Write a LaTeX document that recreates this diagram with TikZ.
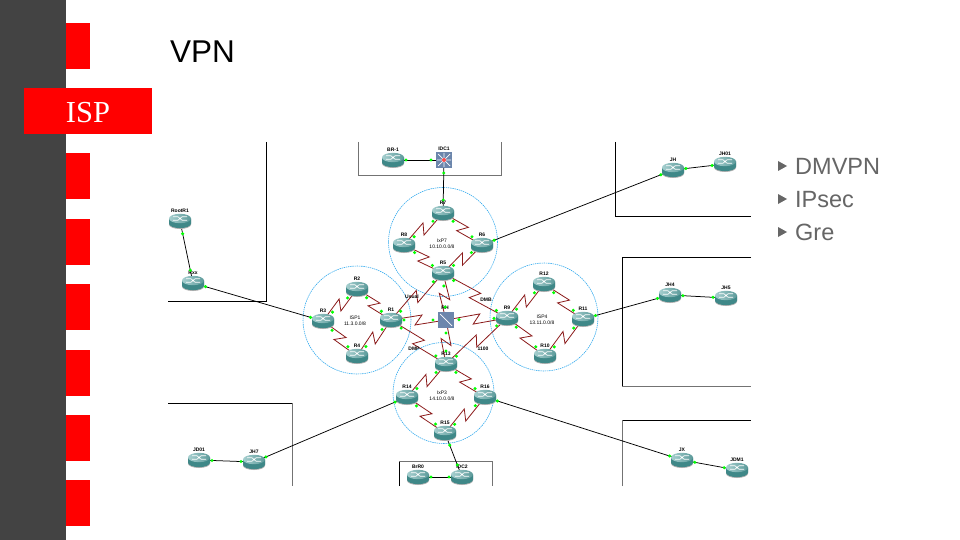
\documentclass[tikz,border=0pt]{standalone}
\usepackage{fontspec}
\setmainfont{Liberation Sans}
\newfontfamily\serifface{Liberation Serif}
\usetikzlibrary{calc,backgrounds}
\definecolor{sidebar}{HTML}{434343}
\definecolor{tabred}{HTML}{FF0000}
\definecolor{bullettext}{HTML}{666666}
\definecolor{teal1}{HTML}{3F8888}
\definecolor{teal2}{HTML}{A6CFCF}
\definecolor{serialred}{HTML}{8B1A1A}
\definecolor{ringblue}{HTML}{33AAEE}
\definecolor{swblue}{HTML}{6C86AC}
\definecolor{dotgreen}{HTML}{00FF00}
\tikzset{
  tabbox/.style={fill=tabred,draw=none},
  rnode/.style={minimum width=24pt,minimum height=16pt,inner sep=0pt},
  swnode/.style={minimum width=16pt,minimum height=16pt,inner sep=0pt},
  rlabel/.style={font=\fontsize{5}{5}\selectfont\bfseries,inner sep=0pt},
  netlabel/.style={font=\fontsize{5}{6}\selectfont,inner sep=0pt,align=center},
  edgelabel/.style={font=\fontsize{5}{5}\selectfont\bfseries,inner sep=0pt},
  ring/.style={draw=ringblue,line width=0.6pt,dash pattern=on 1.4pt off 0.8pt},
  areabox/.style={draw=black,line width=0.8pt},
  areagray/.style={draw=black!55,line width=0.8pt},
  serialline/.style={draw=serialred,line width=0.8pt},
  blackline/.style={draw=black,line width=0.75pt},
  port/.style={fill=dotgreen,draw=none},
  bullettxt/.style={font=\fontsize{23.5}{26}\selectfont,text=bullettext,anchor=base west,inner sep=0pt},
  bullettri/.style={fill=bullettext,draw=none},
}
\newcommand{\router}[4]{%
  \node[rnode] (#1) at (#2,#3) {};
  \begin{scope}[shift={(#2,#3)}]
    \fill[black!30] (-11,-2) -- (-11,3.5) arc[start angle=180,end angle=360,x radius=11pt,y radius=4.5pt] -- (11,-2) -- cycle;
    \fill[teal1] (-11,-2.5) -- (-11,2.6) arc[start angle=180,end angle=360,x radius=11pt,y radius=4.5pt] -- (11,-2.5) -- cycle;
    \shade[left color=teal2,right color=teal1!85!white] (0,-2.5) ellipse[x radius=11pt,y radius=4.7pt];
    \draw[white,line width=0.7pt] (-7,-4.2) -- (-2,-4.2) (-7,-0.8) -- (-2,-0.8) (2,-4.2) -- (7,-4.2) (2,-0.8) -- (7,-0.8) (-2,-4.2) -- (2,-0.8) (-2,-0.8) -- (2,-4.2);
  \end{scope}
  \node[rlabel] (#1lab) at (#2,#3-10) {#4};
}
\newcommand{\serial}[2]{%
  \begin{pgfonlayer}{background}
    \coordinate (zm) at ($(#1)!.5!(#2)$);
    \coordinate (zf) at ($(zm)!3.5pt!(#2)$);
    \coordinate (zb) at ($(zm)!3.5pt!(#1)$);
    \draw[serialline] (#1.center) -- ($(zf)!5pt!90:(#2)$) -- ($(zb)!5pt!90:(#1)$) -- (#2.center);
  \end{pgfonlayer}
  \fill[port] ($(#1)!13pt!(#2)$) circle[radius=1.7pt];
  \fill[port] ($(#2)!13pt!(#1)$) circle[radius=1.7pt];
}
\newcommand{\wire}[2]{%
  \begin{pgfonlayer}{background}
    \draw[blackline] (#1.center) -- (#2.center);
  \end{pgfonlayer}
  \fill[port] ($(#1)!13pt!(#2)$) circle[radius=1.7pt];
  \fill[port] ($(#2)!13pt!(#1)$) circle[radius=1.7pt];
}
\begin{document}
\begin{tikzpicture}[x=1pt,y=-1pt]
\useasboundingbox (0,0) rectangle (960,540);
% sidebar
\fill[sidebar] (0,0) rectangle (66,540);
\foreach \ya/\yb in {23/69,153/199,219/265,284/330,350/396,415/461,480/526}
  \fill[tabbox] (66,\ya) rectangle (90,\yb);
\fill[tabbox] (24,88) rectangle (152,134);
\node[font=\serifface\fontsize{30.5}{30}\selectfont,text=white,anchor=base,inner sep=0pt] (isp) at (88,123) {ISP};
\node[font=\fontsize{31.5}{32}\selectfont,anchor=base west,inner sep=0pt] (title) at (170,63) {VPN};
% bullets
\foreach \yy/\tt in {166/DMVPN,199/IPsec,232/Gre}{
  \fill[bullettri] (778,\yy-5) -- (787,\yy) -- (778,\yy+5) -- cycle;
  \node[bullettxt] (b\tt) at (795,\yy+8.5) {\tt};
}
% area frames
\begin{pgfonlayer}{background}
  \fill[white] (0,0) rectangle (960,540);
  \draw[areabox] (266,142) -- (266,301) -- (168,301);
  \draw[areagray] (358,142) -- (358,175) -- (501,175) -- (501,142);
  \draw[areabox] (615,142) -- (615,216) -- (751,216);
  \draw[areabox] (751,257) -- (622,257) -- (622,386);
  \draw[areagray] (622,386) -- (751,386);
  \draw[areabox] (168,403) -- (292,403);
  \draw[areagray] (292,403) -- (292,486);
  \draw[areabox] (399,486) -- (399,461);
  \draw[areagray] (399,461) -- (492,461) -- (492,486);
  \draw[areagray] (622.5,486) -- (622.5,420);
  \draw[areabox] (622.5,420) -- (751,420);
  \draw[ring] (443,242) circle[radius=54.5pt];
  \draw[ring] (357,320) circle[radius=54pt];
  \draw[ring] (544,317) circle[radius=54pt];
  \draw[ring] (443.5,393) circle[radius=50.5pt];
\end{pgfonlayer}
% routers
\router{BRa}{393}{160}{BR-1}
\router{Rseven}{443}{213}{R7}
\router{Reight}{404}{245}{R8}
\router{Rsix}{482}{245}{R6}
\router{Rfive}{443}{273}{R5}
\router{Rtwo}{357}{289}{R2}
\router{Rthree}{323}{321}{R3}
\router{Rone}{391}{320}{R1}
\router{Rfour}{357}{356}{R4}
\router{Rnine}{507}{318}{R9}
\router{Rtwelve}{544}{284}{R12}
\router{Releven}{583}{319}{R11}
\router{Rten}{545}{356}{R10}
\router{Rthirteen}{446}{364}{R13}
\router{Rfourteen}{407}{397}{R14}
\router{Rsixteen}{485}{397}{R16}
\router{Rfifteen}{445}{433}{R15}
\router{Idctwo}{462}{477}{IDC2}
\router{BRb}{418}{477}{BrR0}
\router{Lone}{180}{221}{RootR1}
\router{Ltwo}{193}{283}{Rxx}
\router{JH}{673}{170}{JH}
\router{JHa}{725}{164}{JH01}
\router{JHf}{670}{295}{JH4}
\router{JHg}{726}{298}{JH5}
\router{JSa}{254}{462}{JH7}
\router{JSb}{199}{460}{JD01}
\router{JXa}{682}{460}{JX}
\router{JXb}{737}{470}{JDM1}
% switches
\node[swnode,fill=swblue] (IDC) at (444,160) {};
\draw[white,line width=0.7pt] (438,154) -- (450,166) (438,166) -- (450,154) (444,153) -- (444,167) (437,160) -- (451,160);
\fill[red!70!white] (444,160) circle[radius=2pt];
\node[rlabel] (IDClab) at (444,149) {IDC1};
\node[swnode,fill=swblue] (RH) at (446,320) {};
\draw[white,line width=0.7pt] (440,314) -- (452,326);
\node[rlabel] (RHlab) at (445,308) {RH};
% serial links
\serial{Rseven}{Reight}
\serial{Rseven}{Rsix}
\serial{Reight}{Rfive}
\serial{Rsix}{Rfive}
\serial{Rtwo}{Rthree}
\serial{Rtwo}{Rone}
\serial{Rthree}{Rfour}
\serial{Rone}{Rfour}
\serial{Rtwelve}{Rnine}
\serial{Rtwelve}{Releven}
\serial{Rnine}{Rten}
\serial{Releven}{Rten}
\serial{Rthirteen}{Rfourteen}
\serial{Rthirteen}{Rsixteen}
\serial{Rfourteen}{Rfifteen}
\serial{Rsixteen}{Rfifteen}
\serial{Rfive}{Rone}
\serial{Rfive}{RH}
\serial{Rfive}{Rnine}
\serial{Rone}{RH}
\serial{Rnine}{RH}
\serial{RH}{Rthirteen}
\serial{Rone}{Rthirteen}
\serial{Rnine}{Rthirteen}
% plain links
\wire{BRa}{IDC}
\wire{IDC}{Rseven}
\wire{Rsix}{JH}
\wire{JH}{JHa}
\wire{Lone}{Ltwo}
\wire{Ltwo}{Rthree}
\wire{Releven}{JHf}
\wire{JHf}{JHg}
\wire{Rfourteen}{JSa}
\wire{JSa}{JSb}
\wire{Rsixteen}{JXa}
\wire{JXa}{JXb}
\wire{Rfifteen}{Idctwo}
\wire{Idctwo}{BRb}
% text labels
\node[netlabel] (neta) at (442,244) {IxP7\\10.10.0.0/8};
\node[netlabel] (netb) at (355,321) {ISP1\\11.3.0.0/8};
\node[netlabel] (netc) at (542,320) {ISP4\\13.11.0.0/8};
\node[netlabel] (netd) at (442,396) {IxP3\\14.10.0.0/8};
\node[edgelabel] (ea) at (412,297) {Usual};
\node[edgelabel] (eb) at (486,300) {DMB};
\node[edgelabel] (ec) at (414,349) {DMP};
\node[edgelabel] (ed) at (483,349) {1100};
\end{tikzpicture}
\end{document}
